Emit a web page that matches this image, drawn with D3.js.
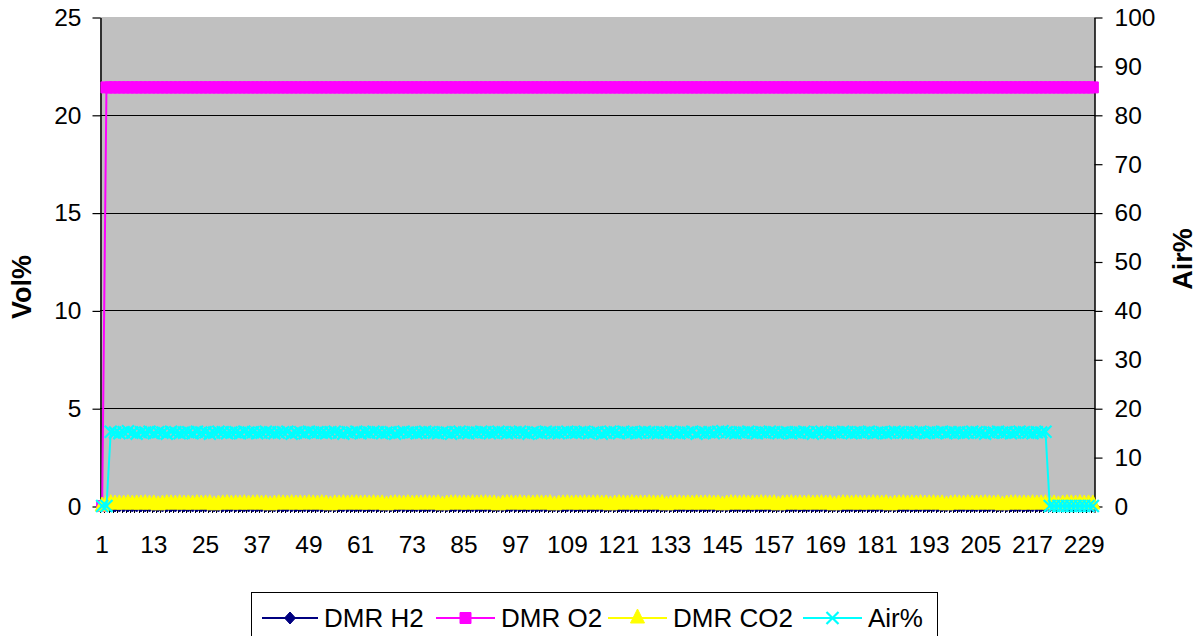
<!DOCTYPE html>
<html>
<head>
<meta charset="utf-8">
<script src="https://cdn.jsdelivr.net/npm/d3@7"></script>
<style>
  html, body { margin: 0; padding: 0; background: #fff; }
  svg { display: block; }
  text { font-family: "Liberation Sans", Arial, sans-serif; fill: #000; }
</style>
</head>
<body>
<svg id="chart" width="1203" height="636"></svg>
<script>
// Sample numbers along the category axis
const categories = d3.range(1, 232);
const xTickLabels = [1, 13, 25, 37, 49, 61, 73, 85, 97, 109, 121, 133, 145, 157, 169, 181, 193, 205, 217, 229];
const leftTicks = [0, 5, 10, 15, 20, 25];
const rightTicks = [0, 10, 20, 30, 40, 50, 60, 70, 80, 90, 100];

// DMR H2 (Vol%)
const h2Values = [
  0,0,0,0,0,0,0,0,0,0, 0,0,0,0,0,0,0,0,0,0,
  0,0,0,0,0,0,0,0,0,0, 0,0,0,0,0,0,0,0,0,0,
  0,0,0,0,0,0,0,0,0,0, 0,0,0,0,0,0,0,0,0,0,
  0,0,0,0,0,0,0,0,0,0, 0,0,0,0,0,0,0,0,0,0,
  0,0,0,0,0,0,0,0,0,0, 0,0,0,0,0,0,0,0,0,0,
  0,0,0,0,0,0,0,0,0,0, 0,0,0,0,0,0,0,0,0,0,
  0,0,0,0,0,0,0,0,0,0, 0,0,0,0,0,0,0,0,0,0,
  0,0,0,0,0,0,0,0,0,0, 0,0,0,0,0,0,0,0,0,0,
  0,0,0,0,0,0,0,0,0,0, 0,0,0,0,0,0,0,0,0,0,
  0,0,0,0,0,0,0,0,0,0, 0,0,0,0,0,0,0,0,0,0,
  0,0,0,0,0,0,0,0,0,0, 0,0,0,0,0,0,0,0,0,0,
  0,0,0,0,0,0,0,0,0,0, 0
];

// DMR O2 (Vol%)
const o2Values = [
  0, 21.4, 21.4, 21.4, 21.4, 21.4, 21.4, 21.4, 21.4, 21.4,
  21.4, 21.4, 21.4, 21.4, 21.4, 21.4, 21.4, 21.4, 21.4, 21.4,
  21.4, 21.4, 21.4, 21.4, 21.4, 21.4, 21.4, 21.4, 21.4, 21.4,
  21.4, 21.4, 21.4, 21.4, 21.4, 21.4, 21.4, 21.4, 21.4, 21.4,
  21.4, 21.4, 21.4, 21.4, 21.4, 21.4, 21.4, 21.4, 21.4, 21.4,
  21.4, 21.4, 21.4, 21.4, 21.4, 21.4, 21.4, 21.4, 21.4, 21.4,
  21.4, 21.4, 21.4, 21.4, 21.4, 21.4, 21.4, 21.4, 21.4, 21.4,
  21.4, 21.4, 21.4, 21.4, 21.4, 21.4, 21.4, 21.4, 21.4, 21.4,
  21.4, 21.4, 21.4, 21.4, 21.4, 21.4, 21.4, 21.4, 21.4, 21.4,
  21.4, 21.4, 21.4, 21.4, 21.4, 21.4, 21.4, 21.4, 21.4, 21.4,
  21.4, 21.4, 21.4, 21.4, 21.4, 21.4, 21.4, 21.4, 21.4, 21.4,
  21.4, 21.4, 21.4, 21.4, 21.4, 21.4, 21.4, 21.4, 21.4, 21.4,
  21.4, 21.4, 21.4, 21.4, 21.4, 21.4, 21.4, 21.4, 21.4, 21.4,
  21.4, 21.4, 21.4, 21.4, 21.4, 21.4, 21.4, 21.4, 21.4, 21.4,
  21.4, 21.4, 21.4, 21.4, 21.4, 21.4, 21.4, 21.4, 21.4, 21.4,
  21.4, 21.4, 21.4, 21.4, 21.4, 21.4, 21.4, 21.4, 21.4, 21.4,
  21.4, 21.4, 21.4, 21.4, 21.4, 21.4, 21.4, 21.4, 21.4, 21.4,
  21.4, 21.4, 21.4, 21.4, 21.4, 21.4, 21.4, 21.4, 21.4, 21.4,
  21.4, 21.4, 21.4, 21.4, 21.4, 21.4, 21.4, 21.4, 21.4, 21.4,
  21.4, 21.4, 21.4, 21.4, 21.4, 21.4, 21.4, 21.4, 21.4, 21.4,
  21.4, 21.4, 21.4, 21.4, 21.4, 21.4, 21.4, 21.4, 21.4, 21.4,
  21.4, 21.4, 21.4, 21.4, 21.4, 21.4, 21.4, 21.4, 21.4, 21.4,
  21.4, 21.4, 21.4, 21.4, 21.4, 21.4, 21.4, 21.4, 21.4, 21.4,
  21.4
];

// DMR CO2 (Vol%)
const co2Values = [
  0, 0.10, 0.12, 0.10, 0.11, 0.10, 0.12, 0.10, 0.11, 0.10,
  0.12, 0.10, 0.11, 0.06, 0.10, 0.12, 0.11, 0.10, 0.12, 0.10,
  0.11, 0.10, 0.12, 0.10, 0.11, 0.12, 0.06, 0.10, 0.11, 0.12,
  0.10, 0.11, 0.10, 0.12, 0.10, 0.11, 0.12, 0.10, 0.11, 0.06,
  0.10, 0.12, 0.11, 0.10, 0.12, 0.10, 0.11, 0.10, 0.12, 0.11,
  0.10, 0.12, 0.10, 0.06, 0.11, 0.10, 0.12, 0.10, 0.11, 0.12,
  0.10, 0.11, 0.10, 0.12, 0.10, 0.11, 0.06, 0.10, 0.12, 0.11,
  0.10, 0.12, 0.10, 0.11, 0.10, 0.12, 0.11, 0.10, 0.12, 0.06,
  0.10, 0.11, 0.12, 0.10, 0.11, 0.10, 0.12, 0.10, 0.11, 0.12,
  0.10, 0.11, 0.06, 0.10, 0.12, 0.11, 0.10, 0.12, 0.10, 0.11,
  0.10, 0.12, 0.11, 0.10, 0.12, 0.06, 0.10, 0.11, 0.12, 0.10,
  0.11, 0.10, 0.12, 0.10, 0.11, 0.12, 0.10, 0.11, 0.06, 0.10,
  0.12, 0.11, 0.10, 0.12, 0.10, 0.11, 0.10, 0.12, 0.11, 0.10,
  0.12, 0.06, 0.10, 0.11, 0.12, 0.10, 0.11, 0.10, 0.12, 0.10,
  0.11, 0.12, 0.10, 0.11, 0.06, 0.10, 0.12, 0.11, 0.10, 0.12,
  0.10, 0.11, 0.10, 0.12, 0.11, 0.10, 0.12, 0.06, 0.10, 0.11,
  0.12, 0.10, 0.11, 0.10, 0.12, 0.10, 0.11, 0.12, 0.10, 0.11,
  0.06, 0.10, 0.12, 0.11, 0.10, 0.12, 0.10, 0.11, 0.10, 0.12,
  0.11, 0.10, 0.12, 0.06, 0.10, 0.11, 0.12, 0.10, 0.11, 0.10,
  0.12, 0.10, 0.11, 0.12, 0.10, 0.11, 0.06, 0.10, 0.12, 0.11,
  0.10, 0.12, 0.10, 0.11, 0.10, 0.12, 0.11, 0.10, 0.12, 0.06,
  0.10, 0.11, 0.12, 0.10, 0.11, 0.10, 0.12, 0.10, 0.11, 0.12,
  0.10, 0.11, 0.06, 0.10, 0.12, 0.11, 0.10, 0.12, 0.10, 0.11,
  0.10
];

// Air% (secondary axis)
const airValues = [
  0, 0, 15.2, 15.0, 14.9, 15.1, 15.3, 15.0, 14.8, 15.1,
  15.0, 15.2, 14.9, 15.1, 15.0, 14.8, 15.2, 15.1, 14.9, 15.0,
  15.1, 14.9, 15.2, 15.0, 15.1, 14.8, 15.0, 15.2, 15.1, 14.9,
  15.0, 15.1, 14.9, 15.2, 15.0, 15.1, 14.9, 15.0, 15.2, 15.1,
  14.9, 15.0, 15.1, 15.2, 14.8, 15.0, 15.1, 14.9, 15.2, 15.0,
  15.1, 15.0, 14.9, 15.1, 15.2, 15.0, 14.8, 15.1, 15.0, 15.2,
  14.9, 15.1, 15.0, 15.2, 15.1, 14.9, 15.0, 15.1, 14.8, 15.0,
  15.2, 15.0, 15.1, 14.9, 15.0, 15.2, 15.1, 15.0, 14.9, 15.1,
  15.0, 14.8, 15.1, 15.2, 15.0, 14.9, 15.1, 15.0, 15.2, 15.1,
  14.9, 15.0, 15.2, 15.1, 14.9, 15.0, 15.1, 15.2, 15.0, 14.8,
  15.1, 15.0, 14.9, 15.2, 15.1, 15.0, 14.9, 15.1, 15.2, 15.0,
  15.0, 15.1, 15.2, 14.9, 15.0, 15.1, 14.8, 15.0, 15.2, 15.1,
  14.9, 15.2, 15.0, 15.1, 14.9, 15.0, 15.2, 15.1, 15.0, 14.9,
  15.1, 15.0, 15.2, 15.0, 14.9, 15.1, 15.0, 15.2, 14.8, 15.1,
  15.0, 15.1, 14.9, 15.2, 15.3, 15.1, 15.0, 14.9, 15.1, 15.0,
  15.2, 15.0, 14.9, 15.1, 15.0, 15.2, 15.1, 14.9, 15.0, 15.1,
  14.9, 15.1, 15.0, 15.2, 15.0, 14.8, 15.1, 15.2, 15.0, 14.9,
  15.1, 15.0, 15.2, 15.1, 14.9, 15.0, 15.1, 15.0, 15.2, 14.9,
  15.0, 15.1, 14.9, 15.0, 15.2, 15.1, 15.0, 14.9, 15.1, 15.0,
  15.2, 14.9, 15.0, 15.1, 15.0, 15.2, 14.9, 15.1, 15.0, 15.1,
  14.9, 15.0, 15.2, 15.1, 15.0, 14.8, 15.1, 15.0, 15.2, 15.0,
  15.1, 14.9, 15.0, 15.2, 15.1, 15.0, 14.9, 15.1, 15.0, 15.2,
  0, 0, 0, 0, 0, 0, 0, 0, 0, 0,
  0
];

const seriesNames = ["DMR H2", "DMR O2", "DMR CO2", "Air%"];
const seriesColors = ["#000080", "#ff00ff", "#ffff00", "#00ffff"];

// ---- layout ----
const svg = d3.select("#chart");
const plot = { left: 100, right: 1095, top: 17, bottom: 506 };
const TICK_FONT = 24.5;
const TITLE_FONT = 27;
const LEGEND_FONT = 26;

const x = d3.scaleBand().domain(categories).range([plot.left, plot.right]).padding(0);
const cx = c => x(c) + x.bandwidth() / 2;
const yL = d3.scaleLinear().domain([0, 25]).range([plot.bottom, plot.top]);
const yR = d3.scaleLinear().domain([0, 100]).range([plot.bottom, plot.top]);

// plot area
svg.append("rect")
  .attr("x", plot.left).attr("y", plot.top)
  .attr("width", plot.right - plot.left).attr("height", plot.bottom - plot.top)
  .attr("fill", "#c0c0c0");

// horizontal gridlines from the primary axis
svg.append("g").selectAll("line")
  .data(leftTicks.filter(d => d > 0 && d < 25))
  .join("line")
  .attr("x1", plot.left).attr("x2", plot.right)
  .attr("y1", d => Math.round(yL(d)) + 0.5).attr("y2", d => Math.round(yL(d)) + 0.5)
  .attr("stroke", "#000").attr("stroke-width", 1);

// primary (left) axis
const axL = svg.append("g").attr("transform", `translate(${plot.left + 0.5},0.5)`)
  .call(d3.axisLeft(yL).tickValues(leftTicks).tickSize(8).tickSizeOuter(0).tickPadding(11));
// secondary (right) axis
const axR = svg.append("g").attr("transform", `translate(${plot.right - 0.5},0.5)`)
  .call(d3.axisRight(yR).tickValues(rightTicks).tickSize(8).tickSizeOuter(0).tickPadding(12));
[axL, axR].forEach(a => {
  a.select(".domain").attr("stroke", "#000").attr("stroke-width", 1.5);
  a.selectAll(".tick line").attr("stroke", "#000").attr("stroke-width", 1.2);
  a.selectAll(".tick text").attr("font-size", TICK_FONT).attr("font-family", '"Liberation Sans", Arial, sans-serif').attr("fill", "#000");
});

// category axis: baseline, a tick at every category boundary, labels every 12th
const xAxis = svg.append("g");
xAxis.append("line")
  .attr("x1", plot.left).attr("x2", plot.right)
  .attr("y1", plot.bottom + 0.5).attr("y2", plot.bottom + 0.5)
  .attr("stroke", "#000").attr("stroke-width", 1.5);
xAxis.selectAll("line.tick")
  .data(categories.concat([null]))
  .join("line").attr("class", "tick")
  .attr("x1", d => d === null ? plot.right : Math.round(x(d)) + 0.5)
  .attr("x2", d => d === null ? plot.right : Math.round(x(d)) + 0.5)
  .attr("y1", plot.bottom).attr("y2", plot.bottom + 7)
  .attr("stroke", "#000").attr("stroke-width", 1);
xAxis.selectAll("text")
  .data(xTickLabels)
  .join("text")
  .attr("x", d => cx(d)).attr("y", 544)
  .attr("text-anchor", "middle").attr("dominant-baseline", "central")
  .attr("font-size", TICK_FONT)
  .text(d => d);

// axis titles
svg.append("text")
  .attr("transform", "translate(22,287) rotate(-90)")
  .attr("text-anchor", "middle").attr("dominant-baseline", "central")
  .attr("font-size", TITLE_FONT).attr("font-weight", "bold")
  .text("Vol%");
svg.append("text")
  .attr("transform", "translate(1183,259) rotate(-90)")
  .attr("text-anchor", "middle").attr("dominant-baseline", "central")
  .attr("font-size", TITLE_FONT).attr("font-weight", "bold")
  .text("Air%");

// marker shapes
const markerPath = {
  diamond: "M0,-6L5.5,0L0,6L-5.5,0Z",
  square: "M-5.5,-5.5H5.5V5.5H-5.5Z",
  triangle: "M0,-9L7,5L-7,5Z",
  cross: "M-6,-6L6,6M-6,6L6,-6"
};

const series = [
  { values: h2Values, scale: yL, marker: "diamond", color: seriesColors[0] },
  { values: o2Values, scale: yL, marker: "square", color: seriesColors[1] },
  { values: co2Values, scale: yL, marker: "triangle", color: seriesColors[2] },
  { values: airValues, scale: yR, marker: "cross", color: seriesColors[3] }
];

const line = d3.line();
series.forEach(s => {
  const pts = categories.map((c, i) => [cx(c), s.scale(s.values[i])]);
  const g = svg.append("g");
  g.append("path")
    .attr("d", line(pts))
    .attr("fill", "none").attr("stroke", s.color).attr("stroke-width", 2);
  g.selectAll("path.m")
    .data(pts)
    .join("path").attr("class", "m")
    .attr("transform", d => `translate(${d[0]},${d[1]})`)
    .attr("d", markerPath[s.marker])
    .attr("fill", s.marker === "cross" ? "none" : s.color)
    .attr("stroke", s.color)
    .attr("stroke-width", s.marker === "cross" ? 2.2 : 1);
});

// legend
const legendY = 618;
const legendItems = [
  { name: seriesNames[0], color: seriesColors[0], marker: "diamond", x1: 262, x2: 318, tx: 324 },
  { name: seriesNames[1], color: seriesColors[1], marker: "square", x1: 436, x2: 495, tx: 501 },
  { name: seriesNames[2], color: seriesColors[2], marker: "triangle", x1: 608, x2: 667, tx: 673 },
  { name: seriesNames[3], color: seriesColors[3], marker: "cross", x1: 803, x2: 862, tx: 868 }
];
const legend = svg.append("g");
legend.append("rect")
  .attr("x", 251.5).attr("y", 592.5).attr("width", 686).attr("height", 50)
  .attr("fill", "#fff").attr("stroke", "#000").attr("stroke-width", 1);
const li = legend.selectAll("g.item").data(legendItems).join("g").attr("class", "item");
li.append("line")
  .attr("x1", d => d.x1).attr("x2", d => d.x2)
  .attr("y1", legendY).attr("y2", legendY)
  .attr("stroke", d => d.color).attr("stroke-width", 2);
li.append("path")
  .attr("transform", d => `translate(${(d.x1 + d.x2) / 2},${legendY})`)
  .attr("d", d => markerPath[d.marker])
  .attr("fill", d => d.marker === "cross" ? "none" : d.color)
  .attr("stroke", d => d.color)
  .attr("stroke-width", d => d.marker === "cross" ? 2.2 : 1);
li.append("text")
  .attr("x", d => d.tx).attr("y", legendY)
  .attr("dominant-baseline", "central")
  .attr("font-size", LEGEND_FONT)
  .text(d => d.name);
</script>
</body>
</html>
